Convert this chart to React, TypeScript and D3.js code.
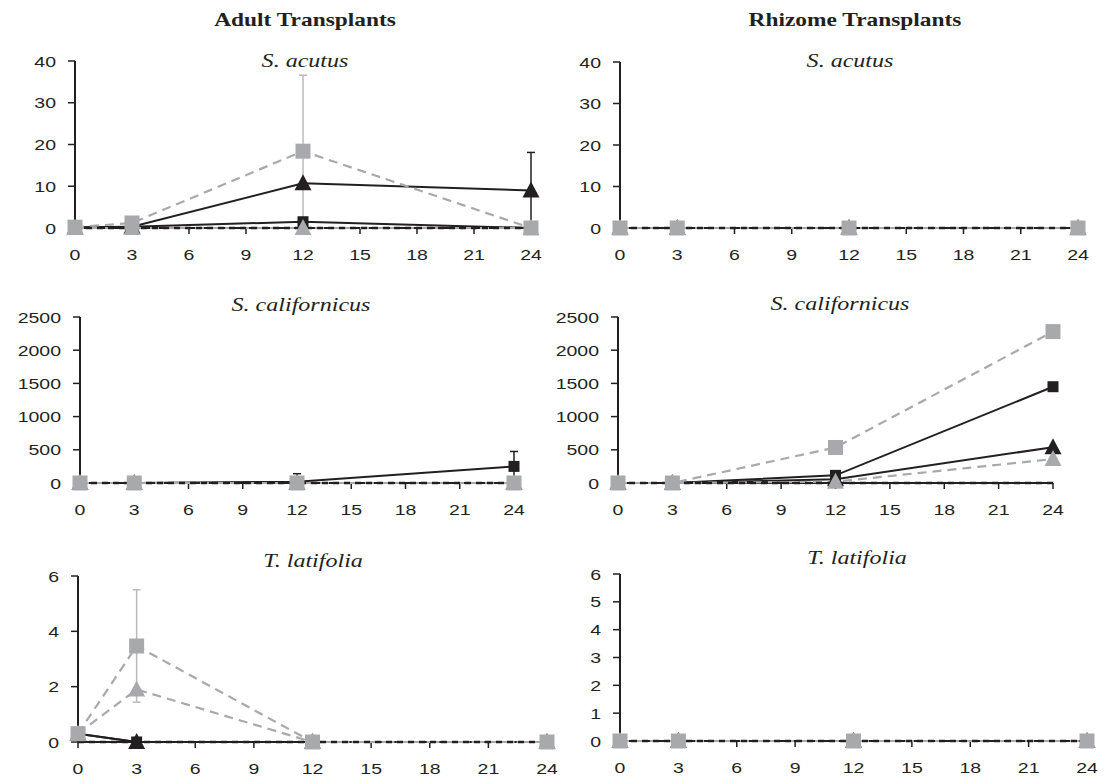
import React from "react";
import * as d3 from "d3";

// ---------- data ----------
const months = [0, 3, 12, 24];
const xTicks = [0, 3, 6, 9, 12, 15, 18, 21, 24];
const columnTitles = ["Adult Transplants", "Rhizome Transplants"];
const speciesNames = ["S. acutus", "S. californicus", "T. latifolia"];
const yTicksAcutus = [0, 10, 20, 30, 40];
const yTicksCalif = [0, 500, 1000, 1500, 2000, 2500];
const yTicksLatAdult = [0, 2, 4, 6];
const yTicksLatRhizome = [0, 1, 2, 3, 4, 5, 6];

// series: bs = black square (solid), bt = black triangle (solid),
// gs = gray square (dashed), gt = gray triangle (dashed), bd = black dashed
const adultAcutusBs = [0.2, 0.3, 1.5, 0];
const adultAcutusBt = [0, 0.3, 10.7, 9.0];
const adultAcutusGs = [0.2, 1.2, 18.4, 0];
const adultAcutusGt = [0, 0, 0, 0];
const adultAcutusBd = [0, 0, 0, 0];
const adultAcutusGsErr = [0, 0, 18.2, 0];
const adultAcutusBtErr = [0, 0, 0, 9.1];

const rhizAcutusBs = [0, 0, 0, 0];
const rhizAcutusBt = [0, 0, 0, 0];
const rhizAcutusGs = [0, 0, 0, 0];
const rhizAcutusGt = [0, 0, 0, 0];
const rhizAcutusBd = [0, 0, 0, 0];

const adultCalifBs = [0, 0, 20, 250];
const adultCalifBt = [0, 0, 0, 0];
const adultCalifGs = [0, 0, 0, 0];
const adultCalifGt = [0, 0, 0, 0];
const adultCalifBd = [0, 0, 0, 0];
const adultCalifBsErr = [0, 0, 120, 225];

const rhizCalifBs = [0, 0, 115, 1450];
const rhizCalifBt = [0, 0, 55, 540];
const rhizCalifGs = [0, 0, 535, 2280];
const rhizCalifGt = [0, 0, 20, 360];
const rhizCalifBd = [0, 0, 0, 0];

const adultLatBs = [0.3, 0, 0, 0];
const adultLatBt = [0.3, 0, 0, 0];
const adultLatGs = [0.3, 3.47, 0, 0];
const adultLatGt = [0.3, 1.9, 0, 0];
const adultLatBd = [0, 0, 0, 0];
const adultLatGsErr = [0, 2.03, 0, 0];

const rhizLatBs = [0, 0, 0, 0];
const rhizLatBt = [0, 0, 0, 0];
const rhizLatGs = [0, 0, 0, 0];
const rhizLatGt = [0, 0, 0, 0];
const rhizLatBd = [0, 0, 0, 0];

// ---------- styles / layout ----------
const BLACK = "#231f20";
const GRAY = "#a7a9ac";
const GRAY_ERR = "#b9babc";
const SX = 1.3; // horizontal stretch of text in the reference

type Kind = "bs" | "bt" | "gs" | "gt" | "bd";
type Series = { values: number[]; err?: number[]; kind: Kind };
type Panel = {
  l: number; r: number; t: number; b: number;
  yTicks: number[]; title: string; titleX: number; titleY: number;
  series: Series[];
};

const panels: Panel[] = [
  {
    l: 75, r: 531, t: 61, b: 228, yTicks: yTicksAcutus, title: speciesNames[0], titleX: 305, titleY: 67,
    series: [
      { kind: "bs", values: adultAcutusBs },
      { kind: "bt", values: adultAcutusBt, err: adultAcutusBtErr },
      { kind: "gt", values: adultAcutusGt },
      { kind: "gs", values: adultAcutusGs, err: adultAcutusGsErr },
      { kind: "bd", values: adultAcutusBd },
    ],
  },
  {
    l: 620, r: 1078, t: 62, b: 228, yTicks: yTicksAcutus, title: speciesNames[0], titleX: 850, titleY: 67,
    series: [
      { kind: "bs", values: rhizAcutusBs },
      { kind: "bt", values: rhizAcutusBt },
      { kind: "gt", values: rhizAcutusGt },
      { kind: "gs", values: rhizAcutusGs },
      { kind: "bd", values: rhizAcutusBd },
    ],
  },
  {
    l: 80, r: 514, t: 317, b: 483, yTicks: yTicksCalif, title: speciesNames[1], titleX: 301, titleY: 311,
    series: [
      { kind: "bs", values: adultCalifBs, err: adultCalifBsErr },
      { kind: "bt", values: adultCalifBt },
      { kind: "gt", values: adultCalifGt },
      { kind: "gs", values: adultCalifGs },
      { kind: "bd", values: adultCalifBd },
    ],
  },
  {
    l: 618, r: 1053, t: 317, b: 483, yTicks: yTicksCalif, title: speciesNames[1], titleX: 840, titleY: 310,
    series: [
      { kind: "bs", values: rhizCalifBs },
      { kind: "bt", values: rhizCalifBt },
      { kind: "gt", values: rhizCalifGt },
      { kind: "gs", values: rhizCalifGs },
      { kind: "bd", values: rhizCalifBd },
    ],
  },
  {
    l: 78, r: 547, t: 576, b: 742, yTicks: yTicksLatAdult, title: speciesNames[2], titleX: 313, titleY: 567,
    series: [
      { kind: "bs", values: adultLatBs },
      { kind: "bt", values: adultLatBt },
      { kind: "gt", values: adultLatGt },
      { kind: "gs", values: adultLatGs, err: adultLatGsErr },
      { kind: "bd", values: adultLatBd },
    ],
  },
  {
    l: 620, r: 1087, t: 574, b: 741, yTicks: yTicksLatRhizome, title: speciesNames[2], titleX: 857, titleY: 564,
    series: [
      { kind: "bs", values: rhizLatBs },
      { kind: "bt", values: rhizLatBt },
      { kind: "gt", values: rhizLatGt },
      { kind: "gs", values: rhizLatGs },
      { kind: "bd", values: rhizLatBd },
    ],
  },
];

const lineStyle = (k: Kind) => {
  if (k === "bs" || k === "bt") return { stroke: BLACK, dash: undefined as string | undefined, w: 2 };
  if (k === "bd") return { stroke: BLACK, dash: "6,5", w: 2.6 };
  return { stroke: GRAY, dash: "9,6", w: 2.2 };
};

function Marker({ kind, x, y }: { kind: Kind; x: number; y: number }) {
  if (kind === "bs") return <rect x={x - 5.5} y={y - 5.5} width={11} height={11} fill={BLACK} />;
  if (kind === "gs") return <rect x={x - 7.5} y={y - 7.5} width={15} height={15} fill={GRAY} />;
  if (kind === "bt" || kind === "gt") {
    const c = kind === "bt" ? BLACK : GRAY;
    return <path d={`M${x},${y - 9}L${x + 8.5},${y + 7}L${x - 8.5},${y + 7}Z`} fill={c} />;
  }
  return null;
}

function STText({ x, y, children, anchor = "middle", size = 15, family = "'Liberation Sans', Arial, sans-serif", weight = "normal", style = "normal" }: any) {
  return (
    <text
      transform={`translate(${x},${y}) scale(${SX},1)`}
      textAnchor={anchor}
      fontSize={size}
      fontFamily={family}
      fontWeight={weight}
      fontStyle={style}
      fill={BLACK}
    >
      {children}
    </text>
  );
}

function PanelView({ p }: { p: Panel }) {
  const x = d3.scaleLinear().domain([0, 24]).range([p.l, p.r]);
  const yMax = p.yTicks[p.yTicks.length - 1];
  const y = d3.scaleLinear().domain([0, yMax]).range([p.b, p.t]);
  const line = d3.line<number>().x((_, i) => x(months[i])).y((v) => y(v));
  const order: Kind[] = ["bs", "bt", "gt", "gs", "bd"];
  const sorted = order.map((k) => p.series.find((s) => s.kind === k)!).filter(Boolean);
  return (
    <g>
      {/* axes */}
      <line x1={p.l} x2={p.l} y1={p.t} y2={p.b} stroke={BLACK} strokeWidth={2} />
      <line x1={p.l} x2={p.r} y1={p.b} y2={p.b} stroke={BLACK} strokeWidth={2} />
      {p.yTicks.map((t) => (
        <g key={"y" + t}>
          <line x1={p.l - 7} x2={p.l} y1={y(t)} y2={y(t)} stroke={BLACK} strokeWidth={1.5} />
          <STText x={p.l - 19} y={y(t) + 5.5} anchor="end">{String(t)}</STText>
        </g>
      ))}
      {xTicks.map((t) => (
        <g key={"x" + t}>
          <line x1={x(t)} x2={x(t)} y1={p.b} y2={p.b + 6} stroke={BLACK} strokeWidth={1.5} />
          <STText x={x(t)} y={p.b + 32}>{String(t)}</STText>
        </g>
      ))}
      {/* lines */}
      {sorted.map((s, i) => {
        const st = lineStyle(s.kind);
        return (
          <path key={"l" + i} d={line(s.values) || ""} fill="none" stroke={st.stroke}
            strokeWidth={st.w} strokeDasharray={st.dash} />
        );
      })}
      {/* error bars */}
      {sorted.map((s, i) =>
        s.err
          ? s.err.map((e, j) => {
              if (e <= 0) return null;
              const cx = x(months[j]);
              const hi = s.values[j] + e;
              const lo = Math.max(0, s.values[j] - e);
              const showLowCap = s.values[j] - e > yMax * 0.05;
              return (
                <g key={"e" + i + "-" + j} stroke={s.kind[0] === "g" ? GRAY_ERR : BLACK} strokeWidth={1.5}>
                  <line x1={cx} x2={cx} y1={y(hi)} y2={y(lo)} />
                  <line x1={cx - 4} x2={cx + 4} y1={y(hi)} y2={y(hi)} />
                  {showLowCap ? <line x1={cx - 4} x2={cx + 4} y1={y(lo)} y2={y(lo)} /> : null}
                </g>
              );
            })
          : null
      )}
      {/* markers */}
      {sorted.map((s, i) =>
        s.values.map((v, j) => <Marker key={"m" + i + "-" + j} kind={s.kind} x={x(months[j])} y={y(v)} />)
      )}
      <STText x={p.titleX} y={p.titleY} size={18.5} family="'Liberation Serif', 'Times New Roman', serif" style="italic">
        {p.title}
      </STText>
    </g>
  );
}

export default function App() {
  return (
    <svg width={1117} height={783} style={{ position: "absolute", left: 0, top: 0, background: "#fff" }}>
      <rect width={1117} height={783} fill="#fff" />
      <STText x={305} y={26} size={18} weight="bold" family="'Liberation Serif', 'Times New Roman', serif">
        {columnTitles[0]}
      </STText>
      <STText x={855} y={26} size={18} weight="bold" family="'Liberation Serif', 'Times New Roman', serif">
        {columnTitles[1]}
      </STText>
      {panels.map((p, i) => (
        <PanelView key={i} p={p} />
      ))}
    </svg>
  );
}
